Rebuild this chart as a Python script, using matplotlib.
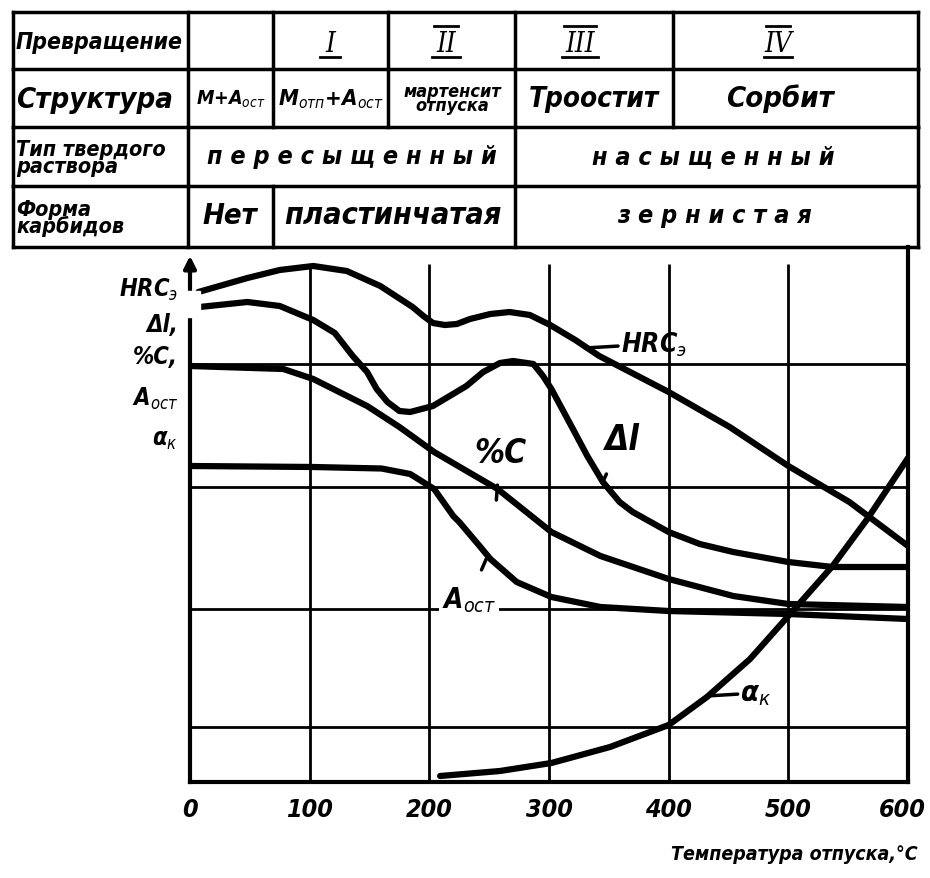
"""
Tempering diagram: properties of hardened steel vs tempering temperature
"""
import matplotlib
matplotlib.use('Agg')
import matplotlib.pyplot as plt
import matplotlib.transforms as mtransforms
from matplotlib import font_manager
from matplotlib.patches import Rectangle

# --- curve data (temperature, relative value) ---
temp_hrc = [7, 48, 75, 103, 131, 159, 186, 195, 203, 213, 223, 234, 251, 267, 284, 301, 322, 342,
            400, 451, 500, 551, 600]
hrc = [49.0, 50.4, 51.2, 51.6, 51.1, 49.6, 47.5, 46.6, 45.9, 45.7, 45.8, 46.3, 46.8, 47.0, 46.7, 45.7,
       44.2, 42.6, 39.0, 35.5, 31.6, 28.0, 23.6]

temp_dl = [8, 48, 75, 103, 121, 136, 148, 156, 165, 175, 184, 203, 231, 245, 259, 270, 287, 295, 302,
           320, 332, 345, 359, 370, 400, 426, 454, 500, 537, 600]
dl = [47.5, 48.0, 47.6, 46.2, 44.9, 42.6, 41.0, 39.3, 38.0, 37.1, 37.0, 37.6, 39.6, 41.0, 41.9, 42.1,
      41.8, 40.6, 39.3, 35.3, 32.6, 30.0, 28.0, 27.0, 25.0, 23.8, 23.0, 22.0, 21.5, 21.5]

temp_c = [0, 78, 103, 148, 175, 204, 257, 302, 343, 400, 454, 500, 600]
carbon = [41.6, 41.3, 40.3, 37.6, 35.5, 33.0, 29.3, 25.0, 22.6, 20.3, 18.6, 17.8, 17.5]

temp_a = [0, 103, 160, 184, 196, 204, 220, 225, 242, 251, 273, 302, 343, 400, 500, 600]
a_ost = [31.6, 31.5, 31.35, 30.8, 29.9, 29.3, 26.6, 26.0, 23.6, 22.3, 20.0, 18.5, 17.5, 17.1, 16.8, 16.3]

temp_ak = [209, 259, 302, 351, 400, 432, 468, 500, 537, 566, 600]
ak = [0.6, 1.1, 1.9, 3.5, 5.7, 8.5, 12.3, 16.6, 21.6, 26.3, 32.4]

x_ticks = [0, 100, 200, 300, 400, 500, 600]
y_grid = [5.5, 17.3, 29.5, 41.8]

# --- table texts ---
row_titles = ['Превращение', 'Структура', 'Тип твердого\nраствора', 'Форма\nкарбидов']
stages = ['I', 'II', 'III', 'IV']
structures = ['М+А$_{ост}$', 'М$_{отп}$+А$_{ост}$', 'мартенсит\nотпуска', 'Троостит', 'Сорбит']
solutions = ['п е р е с ы щ е н н ы й', 'н а с ы щ е н н ы й']
carbides = ['Нет', 'пластинчатая', 'з е р н и с т а я']
y_labels = ['HRC$_э$', 'Δl,', '%C,', 'А$_{ост}$', 'α$_к$']

names = {f.name for f in font_manager.fontManager.ttflist}
FONT = ['Liberation Sans Narrow', 'DejaVu Sans'] if 'Liberation Sans Narrow' in names else ['DejaVu Sans']
plt.rcParams['font.family'] = FONT
plt.rcParams['font.stretch'] = 'condensed'
plt.rcParams['mathtext.fontset'] = 'dejavusans'
TXT = dict(fontweight='bold', fontstyle='italic', color='black')

fig = plt.figure(figsize=(9.3, 8.79), dpi=100)
W, H = 930, 879

# main plot area: x 190..908 px, y 248..783 px
ax = fig.add_axes([190 / W, 1 - 783 / H, 718 / W, 535 / H])
ax.set_xlim(0, 600)
ax.set_ylim(0, 53.5)
ax.spines['top'].set_visible(False)
ax.spines['left'].set_bounds(0, 51.5)
for s in ['left', 'bottom', 'right']:
    ax.spines[s].set_linewidth(3)
ax.annotate('', xy=(0, 52.9), xytext=(0, 50.5),
            arrowprops=dict(arrowstyle='-|>', lw=3, color='black', mutation_scale=18),
            annotation_clip=False)

ax.hlines(y_grid, 0, 600, color='black', lw=2)
ax.vlines(x_ticks[1:-1], 0, 51.8, color='black', lw=2)

for tx, ty in [(temp_hrc, hrc), (temp_dl, dl), (temp_c, carbon), (temp_a, a_ost), (temp_ak, ak)]:
    ax.plot(tx, ty, color='black', lw=4.5, solid_capstyle='round', solid_joinstyle='round')

ax.set_xticks(x_ticks)
ax.set_xticklabels([str(t) for t in x_ticks], fontsize=18, **TXT)
ax.set_yticks([])
ax.tick_params(axis='x', length=0, pad=11)
last = ax.get_xticklabels()[-1]
last.set_transform(last.get_transform() + mtransforms.ScaledTranslation(-0.06, 0, fig.dpi_scale_trans))

# curve labels with leader lines
lead = dict(arrowstyle='-', lw=2.5, color='black', shrinkA=0, shrinkB=0)
ax.annotate('HRC$_э$', xy=(330, 43.4), xytext=(360, 43.8), fontsize=19, va='center', ha='left',
            arrowprops=lead, **TXT)
ax.annotate('Δl', xy=(345, 30.0), xytext=(361, 34.3), fontsize=25, va='center', ha='center',
            arrowprops=dict(lead, shrinkA=12), **TXT)
ax.annotate('%C', xy=(256, 28.2), xytext=(259, 33.0), fontsize=24, va='center', ha='center',
            arrowprops=dict(lead, shrinkA=10), **TXT)
ax.annotate('А$_{ост}$', xy=(249, 22.7), xytext=(233, 18.3), fontsize=20, va='center', ha='center',
            arrowprops=dict(lead, shrinkA=9),
            bbox=dict(boxstyle='square,pad=0.1', fc='white', ec='none'), **TXT)
ax.annotate('α$_к$', xy=(432, 8.6), xytext=(460, 8.9), fontsize=21, va='center', ha='left',
            arrowprops=lead, **TXT)

# overlay in pixel coordinates for the table and side texts
ov = fig.add_axes([0, 0, 1, 1], zorder=2)
ov.set_xlim(0, W)
ov.set_ylim(H, 0)
ov.axis('off')

rows = [13, 70, 128, 187, 248]
left, right = 13, 918
for y in rows:
    ov.plot([left, right], [y, y], color='black', lw=2.5)
row_cols = [[188, 273, 388, 515, 673], [188, 273, 388, 515, 673], [188, 515], [188, 273, 515]]
for i, cols in enumerate(row_cols):
    for x in [left] + cols + [right]:
        ov.plot([x, x], [rows[i], rows[i + 1]], color='black', lw=2.5)

for i, (t, fs) in enumerate(zip(row_titles, [16.5, 21, 15.5, 15.5])):
    ov.text(16, (rows[i] + rows[i + 1]) / 2 + 1, t, fontsize=fs, ha='left', va='center',
            linespacing=0.8, **TXT)

for x, t in zip([330, 446, 580, 778], stages):
    ov.text(x, 44, t, fontsize=20, ha='center', va='center', fontfamily='DejaVu Serif',
            fontstyle='italic', color='black')
    half = 6 + 4 * len(t)
    ov.plot([x - half, x + half], [58, 58], color='black', lw=2)
    if t != 'I':
        ov.plot([x - half + 2, x + half - 2], [27, 27], color='black', lw=2)

for x, t, fs in zip([231, 331, 452, 594, 780], structures, [14, 16, 13, 20, 21]):
    ov.text(x, 99, t, fontsize=fs, ha='center', va='center', linespacing=0.75, **TXT)

for x, t in zip([352, 713], solutions):
    ov.text(x, 157, t, fontsize=18, ha='center', va='center', **TXT)

for x, t, fs in zip([230, 393, 714], carbides, [21, 22, 18]):
    ov.text(x, 216, t, fontsize=fs, ha='center', va='center', **TXT)

for y, t in zip([290, 325, 357, 399, 440], y_labels):
    ov.text(178, y, t, fontsize=17, ha='right', va='center', **TXT)

ov.text(918, 855, 'Температура отпуска,°C', fontsize=14, ha='right', va='center', **TXT)

# white scan gap on the y axis
ov.add_patch(Rectangle((184, 292), 16, 26, color='white', zorder=5))

fig.savefig('out.png', dpi=100)
